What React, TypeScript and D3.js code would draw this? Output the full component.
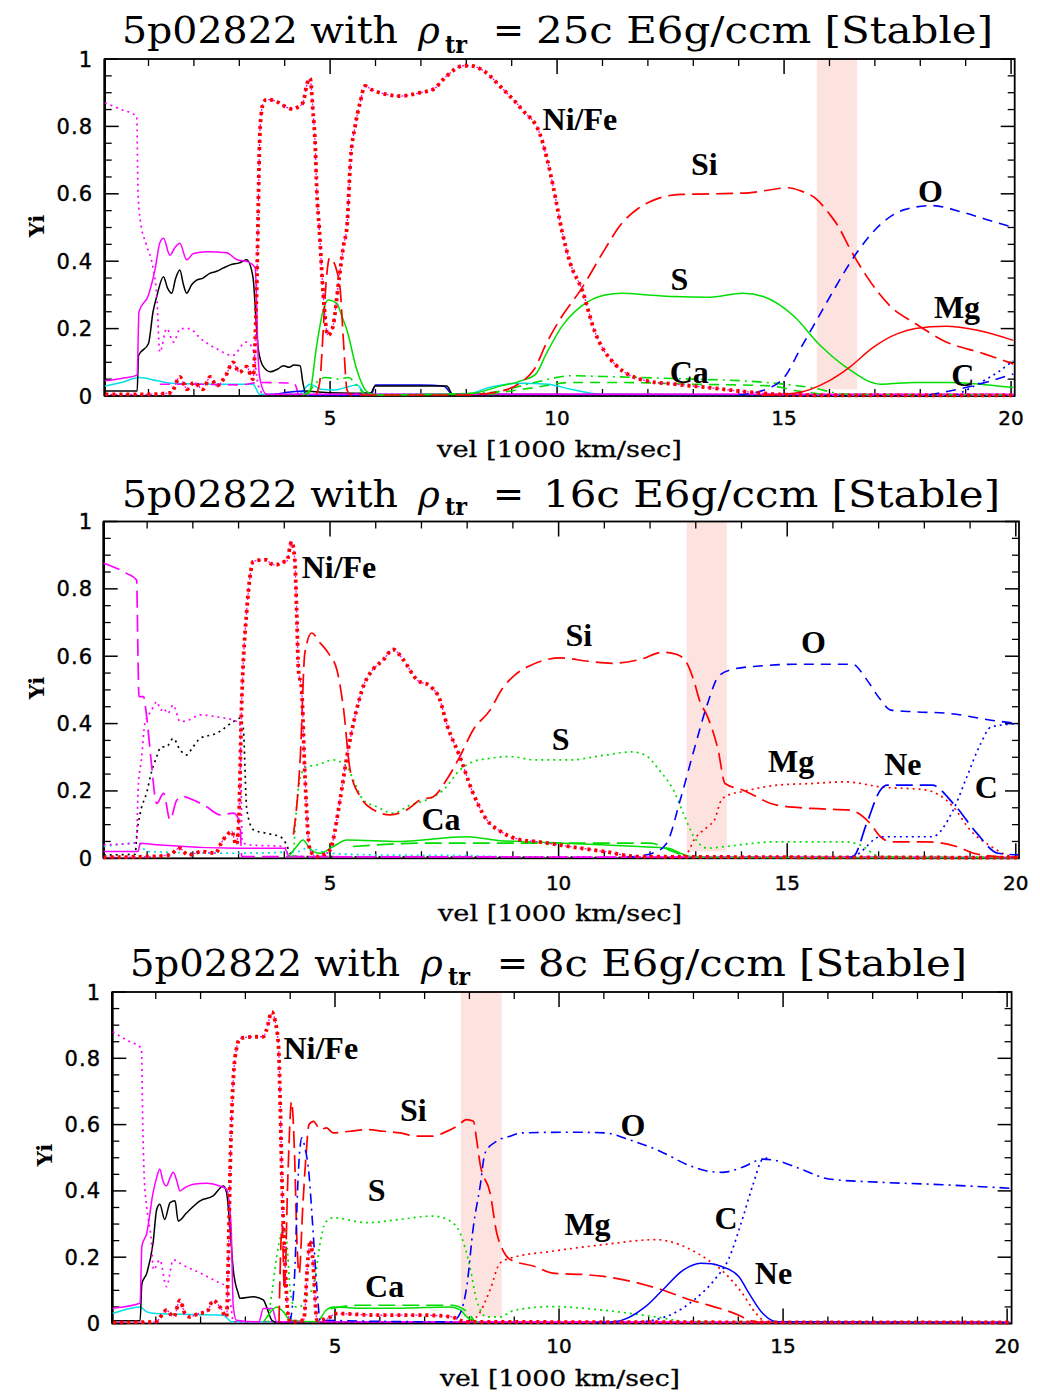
import React from "react";
import * as d3 from "d3";

type Pt = [number, number];

// ---------------- Panel 1 (25c) ----------------
const P1_NIFE: Pt[] = [[0.05,0.005],[1.0,0.005],[1.5,0.01],[1.69,0.057],[1.85,0.02],[2.0,0.04],[2.2,0.02],[2.36,0.057],[2.5,0.03],[2.7,0.06],[2.86,0.10],[3.0,0.07],[3.16,0.087],[3.3,0.05],[3.38,0.3],[3.46,0.8],[3.53,0.87],[3.6,0.88],[3.8,0.875],[3.97,0.862],[4.15,0.852],[4.27,0.856],[4.4,0.87],[4.5,0.93],[4.56,0.943],[4.62,0.85],[4.67,0.75],[4.71,0.6],[4.76,0.5],[4.85,0.3],[4.95,0.18],[5.05,0.2],[5.2,0.35],[5.3,0.45],[5.37,0.5],[5.45,0.7],[5.55,0.8],[5.66,0.87],[5.77,0.92],[5.9,0.91],[6.1,0.9],[6.54,0.89],[6.98,0.9],[7.27,0.91],[7.57,0.95],[7.94,0.98],[8.1,0.98],[8.38,0.965],[8.79,0.913],[9.24,0.848],[9.62,0.778],[9.77,0.708],[9.92,0.618],[10.11,0.488],[10.3,0.39],[10.55,0.315],[10.82,0.195],[11.27,0.095],[11.97,0.045],[12.6,0.035],[13.33,0.025],[14.2,0.012],[14.85,0.005],[16,0.002],[20.05,0.002]];
const P1_MAG_DOT: Pt[] = [[0.04,0.87],[0.4,0.85],[0.74,0.83],[0.77,0.6],[0.82,0.52],[0.95,0.45],[1.1,0.38],[1.18,0.3],[1.25,0.13],[1.4,0.2],[1.55,0.16],[1.7,0.2],[1.9,0.2],[2.15,0.17],[2.5,0.14],[2.85,0.12],[3.15,0.16],[3.3,0.14],[3.42,0.03],[3.55,0.005],[20.05,0.005]];
const P1_MAG_SOLID: Pt[] = [[0.04,0.045],[0.4,0.052],[0.75,0.062],[0.79,0.25],[1.0,0.3],[1.15,0.38],[1.25,0.455],[1.33,0.468],[1.47,0.418],[1.58,0.44],[1.69,0.453],[1.84,0.404],[1.99,0.423],[2.28,0.428],[2.72,0.425],[2.94,0.405],[3.2,0.398],[3.35,0.38],[3.42,0.1],[3.46,0.047],[3.6,0.005],[20.05,0.005]];
const P1_MAG_DASH: Pt[] = [[1.25,0.035],[2.0,0.035],[3.0,0.033],[3.45,0.04],[4.2,0.038],[4.3,0.005]];
const P1_BLACK: Pt[] = [[0.04,0.015],[0.75,0.015],[0.78,0.12],[1.0,0.156],[1.1,0.25],[1.18,0.295],[1.33,0.354],[1.42,0.32],[1.51,0.305],[1.6,0.35],[1.69,0.374],[1.77,0.33],[1.84,0.305],[1.95,0.33],[2.06,0.344],[2.2,0.35],[2.35,0.364],[2.5,0.37],[2.65,0.38],[2.8,0.389],[3.0,0.395],[3.16,0.404],[3.3,0.354],[3.38,0.2],[3.42,0.137],[3.53,0.087],[3.68,0.072],[3.85,0.08],[3.97,0.09],[4.1,0.085],[4.2,0.092],[4.34,0.09],[4.4,0.04],[4.45,0.015],[5.5,0.008],[5.9,0.01],[5.99,0.03],[7.57,0.03],[7.7,0.005],[20.05,0.003]];
const P1_BLUE_LOW: Pt[] = [[3.7,0.003],[4.0,0.01],[4.4,0.015],[4.5,0.003],[5.9,0.003],[6.0,0.033],[7.0,0.033],[7.5,0.03],[7.7,0.005],[20.05,0.003]];
const P1_CYAN: Pt[] = [[0.04,0.03],[0.4,0.04],[0.8,0.055],[1.2,0.045],[1.5,0.038],[2.5,0.035],[3.3,0.035],[3.45,0.005],[4.3,0.005],[4.56,0.035],[4.8,0.02],[5.1,0.018],[5.59,0.033],[5.8,0.005],[8.0,0.005],[8.5,0.025],[9.2,0.038],[9.8,0.035],[10.3,0.02],[11.0,0.005],[20.05,0.002]];
const P1_SI: Pt[] = [[4.7,0.005],[4.78,0.05],[4.85,0.2],[4.92,0.35],[4.99,0.41],[5.07,0.4],[5.15,0.37],[5.22,0.32],[5.3,0.15],[5.37,0.02],[5.45,0.003],[8.0,0.003],[8.6,0.01],[9.2,0.04],[9.5,0.08],[9.76,0.155],[10.1,0.235],[10.52,0.315],[11.05,0.435],[11.4,0.508],[11.8,0.558],[12.2,0.585],[12.71,0.598],[13.47,0.6],[14.23,0.603],[14.7,0.612],[15.08,0.618],[15.38,0.608],[15.68,0.588],[16.0,0.54],[16.21,0.5],[16.4,0.45],[16.82,0.355],[17.35,0.265],[17.89,0.215],[18.5,0.165],[19.41,0.125],[20.05,0.095]];
const P1_S: Pt[] = [[4.4,0.003],[4.56,0.018],[4.7,0.146],[4.85,0.255],[4.96,0.285],[5.15,0.275],[5.25,0.24],[5.37,0.196],[5.59,0.077],[5.81,0.013],[6.0,0.003],[8.0,0.005],[8.77,0.03],[9.2,0.045],[9.53,0.065],[9.76,0.125],[10.1,0.205],[10.52,0.265],[11.05,0.3],[11.43,0.305],[12.0,0.3],[12.57,0.295],[13.33,0.293],[14.09,0.305],[14.54,0.295],[15.23,0.235],[15.76,0.155],[16.37,0.085],[17.13,0.035],[17.89,0.04],[18.65,0.04],[19.3,0.035],[20.05,0.025]];
const P1_CA: Pt[] = [[4.5,0.003],[4.7,0.04],[4.9,0.055],[5.2,0.05],[5.4,0.055],[5.6,0.03],[5.8,0.003],[8.5,0.01],[9.5,0.04],[10.3,0.06],[11.0,0.058],[11.8,0.055],[13.0,0.05],[14.09,0.045],[15.0,0.035],[15.6,0.025],[16.37,0.005],[20.05,0.003]];
const P1_GREEN_DASH: Pt[] = [[8.5,0.005],[9.5,0.025],[10.3,0.04],[11.5,0.04],[13.0,0.035],[14.7,0.03],[15.3,0.015],[16.0,0.003]];
const P1_O: Pt[] = [[14.0,0.003],[14.7,0.025],[15.0,0.055],[15.38,0.145],[15.76,0.235],[16.14,0.325],[16.6,0.425],[17.13,0.51],[17.65,0.553],[18.26,0.565],[18.94,0.545],[19.55,0.52],[20.05,0.5]];
const P1_MG: Pt[] = [[14.5,0.002],[15.23,0.008],[15.99,0.045],[16.44,0.085],[16.97,0.145],[17.5,0.185],[17.89,0.2],[18.57,0.207],[19.26,0.195],[20.05,0.165]];
const P1_C: Pt[] = [[18.8,0.003],[19.26,0.035],[19.7,0.07],[20.05,0.105]];
const P1_BLUE2: Pt[] = [[18.2,0.003],[19.0,0.025],[20.05,0.065]];

// ---------------- Panel 2 (16c) ----------------
const P2_NIFE: Pt[] = [[0.05,0.003],[1.0,0.005],[1.5,0.01],[1.7,0.03],[1.9,0.01],[2.2,0.02],[2.5,0.015],[2.6,0.04],[2.75,0.07],[2.85,0.08],[2.95,0.04],[3.0,0.1],[3.07,0.47],[3.18,0.738],[3.25,0.836],[3.32,0.881],[3.45,0.885],[3.62,0.886],[3.7,0.875],[3.83,0.871],[3.95,0.88],[4.05,0.881],[4.16,0.94],[4.23,0.886],[4.27,0.738],[4.31,0.56],[4.38,0.5],[4.45,0.252],[4.56,0.025],[4.71,0.005],[4.85,0.01],[5.0,0.025],[5.22,0.173],[5.37,0.302],[5.58,0.44],[5.73,0.511],[5.88,0.55],[6.17,0.59],[6.38,0.62],[6.6,0.59],[6.9,0.53],[7.19,0.511],[7.4,0.472],[7.55,0.4],[7.84,0.302],[8.13,0.193],[8.43,0.114],[8.73,0.08],[9.16,0.055],[9.49,0.05],[10.24,0.035],[11.0,0.02],[11.75,0.005],[20.05,0.002]];
const P2_MAG_DASH: Pt[] = [[0.05,0.876],[0.55,0.846],[0.77,0.826],[0.8,0.6],[0.82,0.48],[0.92,0.48],[0.99,0.42],[1.08,0.3],[1.21,0.163],[1.36,0.193],[1.5,0.114],[1.65,0.173],[1.79,0.183],[2.01,0.173],[2.3,0.153],[2.6,0.129],[2.89,0.134],[3.03,0.104],[3.07,0.005],[20.05,0.003]];
const P2_MAG_DOT: Pt[] = [[0.05,0.04],[0.7,0.045],[0.77,0.05],[0.8,0.2],[0.88,0.3],[0.95,0.4],[1.1,0.44],[1.21,0.465],[1.3,0.44],[1.36,0.446],[1.45,0.43],[1.57,0.455],[1.72,0.406],[1.9,0.41],[2.16,0.426],[2.52,0.42],[2.89,0.41],[3.03,0.4],[3.08,0.05],[3.2,0.04],[4.0,0.035],[4.1,0.005],[20.05,0.003]];
const P2_BLACK_DOT: Pt[] = [[0.05,0.01],[0.74,0.012],[0.77,0.064],[0.85,0.134],[1.0,0.2],[1.07,0.243],[1.21,0.302],[1.3,0.33],[1.43,0.332],[1.57,0.356],[1.72,0.322],[1.86,0.307],[2.0,0.33],[2.16,0.356],[2.52,0.371],[2.89,0.406],[3.03,0.416],[3.1,0.39],[3.18,0.144],[3.33,0.084],[3.62,0.074],[3.91,0.064],[4.05,0.04],[4.13,0.015],[4.3,0.005],[20.05,0.002]];
const P2_MAG_SOLID: Pt[] = [[0.05,0.02],[0.8,0.02],[0.85,0.045],[1.2,0.04],[3.0,0.03],[4.0,0.03],[4.1,0.003]];
const P2_CYAN: Pt[] = [[0.05,0.035],[0.8,0.045],[1.0,0.02],[3.0,0.015],[4.3,0.02],[4.5,0.03],[5.0,0.015],[6.0,0.01],[8.0,0.008],[9.0,0.003]];
const P2_SI: Pt[] = [[4.2,0.07],[4.35,0.3],[4.45,0.61],[4.6,0.669],[4.78,0.64],[4.96,0.61],[5.15,0.56],[5.29,0.45],[5.44,0.262],[5.66,0.183],[5.95,0.144],[6.31,0.129],[6.68,0.144],[6.97,0.173],[7.26,0.183],[7.55,0.233],[7.84,0.302],[8.13,0.381],[8.5,0.44],[8.76,0.502],[9.06,0.546],[9.36,0.571],[10.04,0.595],[10.64,0.585],[11.17,0.579],[11.77,0.59],[12.29,0.612],[12.59,0.605],[12.82,0.576],[12.97,0.522],[13.08,0.47],[13.26,0.42],[13.49,0.321],[13.64,0.222],[14.02,0.203],[14.77,0.158],[15.53,0.148],[16.36,0.143],[16.81,0.104],[17.04,0.064],[17.27,0.049],[18.02,0.049],[18.7,0.035],[19.08,0.015],[19.6,0.005],[20.05,0.003]];
const P2_S: Pt[] = [[4.2,0.005],[4.3,0.2],[4.38,0.252],[4.49,0.272],[4.71,0.277],[5.07,0.292],[5.37,0.272],[5.51,0.233],[5.73,0.173],[6.02,0.153],[6.38,0.134],[6.75,0.158],[7.11,0.173],[7.48,0.203],[7.84,0.262],[8.13,0.287],[8.5,0.297],[8.94,0.302],[9.49,0.292],[10.24,0.292],[11.0,0.306],[11.6,0.316],[11.9,0.306],[12.2,0.262],[12.51,0.203],[12.73,0.133],[12.96,0.064],[13.26,0.03],[13.64,0.035],[14.77,0.049],[16.28,0.049],[16.59,0.04],[17.04,0.005],[20.05,0.003]];
const P2_O: Pt[] = [[11.5,0.003],[12.05,0.015],[12.36,0.044],[12.66,0.173],[12.96,0.321],[13.26,0.46],[13.5,0.541],[13.8,0.561],[14.4,0.571],[15.15,0.576],[16.43,0.576],[16.73,0.532],[17.03,0.473],[17.27,0.44],[17.79,0.435],[18.55,0.43],[19.46,0.41],[20.05,0.4]];
const P2_MG: Pt[] = [[12.6,0.003],[12.81,0.015],[12.96,0.054],[13.26,0.094],[13.41,0.114],[13.56,0.173],[13.72,0.188],[14.02,0.198],[14.77,0.217],[15.53,0.222],[16.28,0.227],[17.04,0.212],[18.02,0.203],[18.63,0.153],[19.0,0.084],[19.46,0.035],[19.91,0.005],[20.05,0.003]];
const P2_NE: Pt[] = [[16.3,0.003],[16.44,0.005],[16.74,0.104],[17.04,0.203],[17.19,0.217],[18.17,0.217],[18.63,0.163],[19.15,0.074],[19.61,0.015],[20.05,0.01]];
const P2_C: Pt[] = [[16.3,0.003],[16.51,0.01],[17.04,0.064],[18.17,0.064],[18.63,0.143],[18.93,0.242],[19.23,0.34],[19.46,0.39],[20.05,0.4]];
const P2_CA: Pt[] = [[4.1,0.005],[4.27,0.035],[4.41,0.054],[4.55,0.03],[4.78,0.015],[5.07,0.035],[5.37,0.054],[6.53,0.05],[7.99,0.064],[8.73,0.052],[9.16,0.05],[10.24,0.044],[11.75,0.035],[12.4,0.03],[12.66,0.015],[13.0,0.003],[20.05,0.002]];
const P2_GREEN_DASH: Pt[] = [[5.5,0.035],[7.0,0.045],[8.5,0.045],[10.5,0.045],[12.0,0.045],[12.5,0.02],[12.8,0.003]];

// ---------------- Panel 3 (8c) ----------------
const P3_NIFE: Pt[] = [[0.05,0.003],[1.0,0.005],[1.24,0.04],[1.4,0.02],[1.54,0.07],[1.65,0.03],[1.76,0.02],[1.95,0.03],[2.14,0.035],[2.28,0.07],[2.43,0.05],[2.58,0.02],[2.62,0.2],[2.66,0.465],[2.73,0.735],[2.81,0.835],[2.88,0.86],[3.18,0.865],[3.4,0.865],[3.47,0.885],[3.59,0.94],[3.66,0.915],[3.74,0.835],[3.78,0.65],[3.81,0.465],[3.88,0.2],[3.95,0.03],[4.0,0.005],[4.3,0.01],[4.4,0.2],[4.45,0.25],[4.5,0.2],[4.6,0.01],[4.9,0.02],[5.0,0.03],[6.0,0.025],[7.0,0.025],[7.6,0.02],[7.9,0.005],[20.05,0.003]];
const P3_MAG_DOT: Pt[] = [[0.04,0.88],[0.35,0.855],[0.68,0.83],[0.71,0.6],[0.74,0.45],[0.8,0.35],[0.9,0.25],[0.95,0.162],[1.09,0.192],[1.24,0.111],[1.39,0.192],[1.54,0.182],[1.7,0.17],[1.84,0.162],[2.14,0.142],[2.43,0.122],[2.58,0.111],[2.68,0.05],[2.73,0.005],[20.05,0.003]];
const P3_MAG_SOLID: Pt[] = [[0.04,0.046],[0.65,0.061],[0.69,0.233],[0.8,0.273],[0.94,0.395],[1.02,0.44],[1.09,0.466],[1.16,0.43],[1.24,0.415],[1.32,0.44],[1.39,0.456],[1.47,0.43],[1.54,0.4],[1.65,0.41],[1.84,0.42],[2.14,0.423],[2.43,0.415],[2.58,0.405],[2.68,0.3],[2.73,0.05],[2.8,0.01],[3.3,0.005],[3.4,0.045],[3.6,0.045],[3.7,0.005],[20.05,0.003]];
const P3_BLACK: Pt[] = [[0.04,0.008],[0.65,0.008],[0.69,0.12],[0.8,0.152],[0.94,0.243],[1.02,0.344],[1.09,0.36],[1.2,0.314],[1.32,0.365],[1.43,0.37],[1.5,0.309],[1.69,0.334],[1.99,0.37],[2.28,0.385],[2.51,0.415],[2.58,0.395],[2.65,0.3],[2.73,0.162],[2.84,0.091],[2.88,0.076],[3.18,0.081],[3.4,0.071],[3.47,0.051],[3.59,0.01],[3.7,0.003],[20.05,0.003]];
const P3_CYAN: Pt[] = [[0.04,0.03],[0.65,0.05],[0.8,0.035],[1.0,0.03],[2.5,0.025],[2.7,0.005],[4.5,0.005]];
const P3_SI: Pt[] = [[3.75,0.003],[3.82,0.3],[3.87,0.1],[3.95,0.45],[4.03,0.67],[4.1,0.5],[4.15,0.25],[4.2,0.15],[4.28,0.35],[4.35,0.5],[4.42,0.6],[4.52,0.61],[4.67,0.585],[4.81,0.59],[4.96,0.575],[5.33,0.58],[5.71,0.585],[6.08,0.58],[6.45,0.575],[6.82,0.565],[7.19,0.565],[7.42,0.575],[7.72,0.595],[7.94,0.615],[8.09,0.61],[8.16,0.555],[8.24,0.48],[8.46,0.395],[8.61,0.273],[8.75,0.22],[8.92,0.192],[9.46,0.172],[9.85,0.152],[10.62,0.147],[11.0,0.142],[11.77,0.122],[12.31,0.101],[12.93,0.071],[13.32,0.056],[14.01,0.025],[14.24,0.01],[14.5,0.003],[20.05,0.003]];
const P3_O: Pt[] = [[4.0,0.003],[4.1,0.15],[4.18,0.45],[4.26,0.56],[4.33,0.53],[4.42,0.45],[4.5,0.3],[4.6,0.1],[4.67,0.01],[7.6,0.005],[7.79,0.03],[7.94,0.111],[8.09,0.294],[8.24,0.415],[8.35,0.515],[8.61,0.55],[8.91,0.565],[9.17,0.575],[10.25,0.577],[11.02,0.575],[11.55,0.555],[12.17,0.525],[12.94,0.475],[13.3,0.46],[13.63,0.456],[14.09,0.471],[14.55,0.496],[14.86,0.491],[15.4,0.466],[16.02,0.436],[17.18,0.426],[18.33,0.42],[19.8,0.41],[20.05,0.408]];
const P3_C: Pt[] = [[11.0,0.003],[11.77,0.005],[12.55,0.03],[13.01,0.071],[13.47,0.132],[13.78,0.193],[14.09,0.314],[14.32,0.415],[14.55,0.496],[14.7,0.5]];
const P3_NE: Pt[] = [[10.8,0.003],[11.23,0.005],[11.93,0.051],[12.31,0.101],[12.78,0.162],[13.16,0.182],[13.4,0.18],[13.63,0.172],[14.01,0.142],[14.24,0.091],[14.55,0.03],[14.86,0.005],[20.05,0.003]];
const P3_MG: Pt[] = [[7.9,0.003],[8.16,0.02],[8.46,0.101],[8.68,0.182],[8.92,0.197],[9.85,0.218],[11.0,0.238],[12.16,0.253],[12.78,0.233],[13.32,0.192],[13.7,0.152],[14.09,0.091],[14.4,0.03],[14.63,0.005],[20.05,0.003]];
const P3_S: Pt[] = [[3.5,0.003],[3.6,0.1],[3.7,0.203],[3.8,0.27],[3.85,0.284],[3.92,0.25],[4.0,0.1],[4.1,0.05],[4.22,0.05],[4.35,0.08],[4.52,0.111],[4.67,0.243],[4.78,0.304],[4.96,0.319],[5.71,0.304],[6.45,0.314],[7.19,0.324],[7.57,0.309],[7.79,0.273],[8.01,0.172],[8.16,0.071],[8.39,0.02],[8.68,0.02],[9.0,0.04],[9.85,0.051],[11.0,0.04],[12.16,0.02],[12.93,0.005],[20.05,0.003]];
const P3_CA: Pt[] = [[3.4,0.003],[3.6,0.04],[3.7,0.05],[3.85,0.035],[4.0,0.01],[4.6,0.005],[4.8,0.04],[4.96,0.05],[5.5,0.046],[6.45,0.046],[7.57,0.05],[7.8,0.04],[7.94,0.02],[8.2,0.003]];
const P3_GREEN_DASH: Pt[] = [[4.9,0.045],[5.5,0.055],[7.0,0.055],[7.6,0.055],[7.9,0.04],[8.1,0.01]];

// ---------------- Text / bands ----------------
const TITLE_HEAD = "5p02822 with";
const TITLE_TAILS = ["25c E6g/ccm [Stable]", "16c E6g/ccm [Stable]", "8c E6g/ccm [Stable]"];
const BANDS: [number, number][] = [[15.72, 16.61], [12.8, 13.68], [7.81, 8.72]];
const X_TICK_LABELS = ["5", "10", "15", "20"];
const X_TICK_VALUES = [5, 10, 15, 20];
const Y_TICK_VALUES = [0, 0.2, 0.4, 0.6, 0.8, 1];
const Y_TICK_LABELS = ["0", "0.2", "0.4", "0.6", "0.8", "1"];
const X_TITLE = "vel [1000 km/sec]";
const Y_TITLE = "Yi";

const P1_LABELS: [string, number, number][] = [["Ni/Fe", 9.68, 0.79], ["Si", 12.95, 0.655], ["O", 17.95, 0.577], ["S", 12.5, 0.315], ["Mg", 18.3, 0.23], ["Ca", 12.48, 0.04], ["C", 18.68, 0.03]];
const P2_LABELS: [string, number, number][] = [["Ni/Fe", 4.38, 0.831], ["Si", 10.15, 0.63], ["O", 15.3, 0.61], ["S", 9.85, 0.323], ["Mg", 14.58, 0.257], ["Ne", 17.12, 0.247], ["C", 19.1, 0.179], ["Ca", 7.0, 0.085]];
const P3_LABELS: [string, number, number][] = [["Ni/Fe", 3.85, 0.799], ["Si", 6.45, 0.612], ["O", 11.37, 0.566], ["S", 5.73, 0.37], ["Mg", 10.12, 0.266], ["C", 13.47, 0.286], ["Ne", 14.37, 0.12], ["Ca", 5.67, 0.081]];

// ---------------- Styles ----------------
const RED = "#ff0000", BLUE = "#0000ff", GREEN = "#00dd00", MAG = "#ff00ff", CYAN = "#00e0e8", BLACK = "#000000";
type St = { c: string; w: number; d?: string };
const SOLID = (c: string): St => ({ c, w: 1.5 });
const DOT = (c: string): St => ({ c, w: 1.7, d: "2 4" });
const DASH = (c: string): St => ({ c, w: 1.6, d: "10 7" });
const LDASH = (c: string): St => ({ c, w: 1.7, d: "17 7" });
const DDOT = (c: string): St => ({ c, w: 1.6, d: "10 5 2 5" });
const NIFE_UNDER: St = { c: MAG, w: 1.3, d: "2 3" };
const NIFE: St = { c: RED, w: 3.8, d: "3 4" };

type Series = { data: Pt[]; st: St };

const panels = [
  {
    xd: [0.035, 20.08], xr: [104.7, 1014.7], yr: [396, 59],
    head: { x: 122, w: 276, y: 43 }, rho: 418, tr: { x: 445, y: 53 }, eq: 493, tail: { x: 536, w: 457 },
    xlabY: 425, xtitle: { x: 437, w: 245, y: 457 }, ylab: { x: 44, y: 226 }, ylabRight: 93,
    band: BANDS[0], labels: P1_LABELS, tailText: TITLE_TAILS[0],
    series: [
      { data: P1_CYAN, st: SOLID(CYAN) }, { data: P1_MAG_DASH, st: DASH(MAG) }, { data: P1_BLUE_LOW, st: SOLID(BLUE) },
      { data: P1_BLACK, st: SOLID(BLACK) }, { data: P1_MAG_SOLID, st: SOLID(MAG) }, { data: P1_MAG_DOT, st: DOT(MAG) },
      { data: P1_GREEN_DASH, st: DASH(GREEN) }, { data: P1_CA, st: DDOT(GREEN) }, { data: P1_S, st: SOLID(GREEN) },
      { data: P1_SI, st: LDASH(RED) }, { data: P1_O, st: DASH(BLUE) }, { data: P1_MG, st: SOLID(RED) },
      { data: P1_BLUE2, st: DASH(BLUE) }, { data: P1_C, st: DOT(BLUE) },
      { data: P1_NIFE, st: NIFE_UNDER }, { data: P1_NIFE, st: NIFE },
    ] as Series[],
  },
  {
    xd: [0.05, 20.07], xr: [103.7, 1019], yr: [858.3, 521.5],
    head: { x: 122, w: 276, y: 507 }, rho: 418, tr: { x: 445, y: 515 }, eq: 493, tail: { x: 543, w: 457 },
    xlabY: 890, xtitle: { x: 438, w: 244, y: 921 }, ylab: { x: 44, y: 688 }, ylabRight: 93,
    band: BANDS[1], labels: P2_LABELS, tailText: TITLE_TAILS[1],
    series: [
      { data: P2_CYAN, st: DOT(CYAN) }, { data: P2_MAG_SOLID, st: SOLID(MAG) }, { data: P2_BLACK_DOT, st: DOT(BLACK) },
      { data: P2_MAG_DOT, st: DOT(MAG) }, { data: P2_MAG_DASH, st: LDASH(MAG) },
      { data: P2_GREEN_DASH, st: LDASH(GREEN) }, { data: P2_CA, st: SOLID(GREEN) }, { data: P2_S, st: DOT(GREEN) },
      { data: P2_SI, st: LDASH(RED) }, { data: P2_O, st: DASH(BLUE) }, { data: P2_MG, st: DOT(RED) },
      { data: P2_NE, st: LDASH(BLUE) }, { data: P2_C, st: DOT(BLUE) },
      { data: P2_NIFE, st: NIFE_UNDER }, { data: P2_NIFE, st: NIFE },
    ] as Series[],
  },
  {
    xd: [0.03, 20.1], xr: [112.3, 1011.6], yr: [1323.5, 992],
    head: { x: 130, w: 270, y: 976 }, rho: 421, tr: { x: 448, y: 985 }, eq: 497, tail: { x: 538, w: 429 },
    xlabY: 1353, xtitle: { x: 440, w: 240, y: 1386 }, ylab: { x: 52, y: 1155 }, ylabRight: 101,
    band: BANDS[2], labels: P3_LABELS, tailText: TITLE_TAILS[2],
    series: [
      { data: P3_CYAN, st: SOLID(CYAN) }, { data: P3_BLACK, st: SOLID(BLACK) }, { data: P3_MAG_SOLID, st: SOLID(MAG) },
      { data: P3_MAG_DOT, st: DOT(MAG) },
      { data: P3_GREEN_DASH, st: LDASH(GREEN) }, { data: P3_CA, st: SOLID(GREEN) }, { data: P3_S, st: DOT(GREEN) },
      { data: P3_SI, st: LDASH(RED) }, { data: P3_O, st: DDOT(BLUE) }, { data: P3_MG, st: DOT(RED) },
      { data: P3_NE, st: SOLID(BLUE) }, { data: P3_C, st: DOT(BLUE) },
      { data: P3_NIFE, st: NIFE_UNDER }, { data: P3_NIFE, st: NIFE },
    ] as Series[],
  },
];

const SERIF = "'DejaVu Serif', serif";
const SANS = "'DejaVu Sans', sans-serif";
const LABEL_FONT = "'Liberation Serif', 'Times New Roman', serif";

function Panel({ p }: { p: (typeof panels)[number] }) {
  const x = d3.scaleLinear().domain(p.xd).range(p.xr);
  const y = d3.scaleLinear().domain([0, 1]).range(p.yr);
  const line = d3.line<Pt>().x((d) => x(d[0])).y((d) => y(d[1])).curve(d3.curveMonotoneX);
  const [x0, x1] = p.xr;
  const yTop = y(1), yBot = y(0);
  const minorX = d3.range(1, 21).filter((v) => v % 5 !== 0);
  const minorY = d3.range(0.05, 1.0, 0.05).filter((v) => Math.abs(v * 5 - Math.round(v * 5)) > 1e-6);
  return (
    <g>
      <rect x={x(p.band[0])} y={yTop} width={x(p.band[1]) - x(p.band[0])} height={y(0.02) - yTop} fill="#fde3e0" />
      <rect x={x0} y={yTop} width={x1 - x0} height={yBot - yTop} fill="none" stroke="#000" strokeWidth={1.8} />
      {X_TICK_VALUES.map((v) => (
        <g key={"xM" + v}>
          <line x1={x(v)} x2={x(v)} y1={yBot} y2={yBot - 15} stroke="#000" strokeWidth={1.5} />
          <line x1={x(v)} x2={x(v)} y1={yTop} y2={yTop + 15} stroke="#000" strokeWidth={1.5} />
        </g>
      ))}
      {minorX.map((v) => (
        <g key={"xm" + v}>
          <line x1={x(v)} x2={x(v)} y1={yBot} y2={yBot - 7} stroke="#000" strokeWidth={1.3} />
          <line x1={x(v)} x2={x(v)} y1={yTop} y2={yTop + 7} stroke="#000" strokeWidth={1.3} />
        </g>
      ))}
      {Y_TICK_VALUES.map((v) => (
        <g key={"yM" + v}>
          <line x1={x0} x2={x0 + 14} y1={y(v)} y2={y(v)} stroke="#000" strokeWidth={1.5} />
          <line x1={x1} x2={x1 - 14} y1={y(v)} y2={y(v)} stroke="#000" strokeWidth={1.5} />
        </g>
      ))}
      {minorY.map((v) => (
        <g key={"ym" + v}>
          <line x1={x0} x2={x0 + 7} y1={y(v)} y2={y(v)} stroke="#000" strokeWidth={1.3} />
          <line x1={x1} x2={x1 - 7} y1={y(v)} y2={y(v)} stroke="#000" strokeWidth={1.3} />
        </g>
      ))}
      <line x1={x0} x2={x0} y1={yTop} y2={yBot} stroke="#000" strokeWidth={2.6} />
      {p.series.map((s, i) => (
        <path key={i} d={line(s.data) || ""} fill="none" stroke={s.st.c} strokeWidth={s.st.w}
          strokeDasharray={s.st.d} strokeLinejoin="round" />
      ))}
      {X_TICK_VALUES.map((v, i) => (
        <text key={"xl" + v} x={x(v)} y={p.xlabY} textAnchor="middle" fontFamily={SANS} fontSize={20} stroke="#000" strokeWidth={0.4} fill="#000">{X_TICK_LABELS[i]}</text>
      ))}
      {Y_TICK_VALUES.map((v, i) => (
        <text key={"yl" + v} x={p.ylabRight} y={y(v) + 7.5} textAnchor="end" fontFamily={SANS} fontSize={21} letterSpacing={1} stroke="#000" strokeWidth={0.4} fill="#000">{Y_TICK_LABELS[i]}</text>
      ))}
      <text x={p.xtitle.x} y={p.xtitle.y} fontFamily={SERIF} fontSize={23} textLength={p.xtitle.w} lengthAdjust="spacingAndGlyphs" stroke="#000" strokeWidth={0.3} fill="#000">{X_TITLE}</text>
      <text transform={`translate(${p.ylab.x},${p.ylab.y}) rotate(-90)`} textAnchor="middle" fontFamily={SERIF} fontWeight="bold" fontSize={21} fill="#000">{Y_TITLE}</text>
      <text x={p.head.x} y={p.head.y} fontFamily={SERIF} fontSize={37} textLength={p.head.w} lengthAdjust="spacingAndGlyphs" fill="#000">{TITLE_HEAD}</text>
      <text x={p.rho} y={p.head.y} fontFamily={SERIF} fontStyle="italic" fontSize={37} fill="#000">ρ</text>
      <text x={p.tr.x} y={p.tr.y} fontFamily={SERIF} fontWeight="bold" fontSize={24} textLength={22} lengthAdjust="spacingAndGlyphs" fill="#000">tr</text>
      <text x={p.eq} y={p.head.y} fontFamily={SERIF} fontSize={37} fill="#000">=</text>
      <text x={p.tail.x} y={p.head.y} fontFamily={SERIF} fontSize={37} textLength={p.tail.w} lengthAdjust="spacingAndGlyphs" fill="#000">{p.tailText}</text>
      {p.labels.map(([t, lx, ly]) => (
        <text key={t} x={x(lx)} y={y(ly)} fontFamily={LABEL_FONT} fontWeight="bold" fontSize={32} fill="#000">{t}</text>
      ))}
    </g>
  );
}

export default function App() {
  return (
    <svg width={1040} height={1394} viewBox="0 0 1040 1394" style={{ position: "absolute", left: 0, top: 0, background: "#fff" }}>
      <rect x={0} y={0} width={1040} height={1394} fill="#fff" />
      {panels.map((p, i) => <Panel key={i} p={p} />)}
    </svg>
  );
}
